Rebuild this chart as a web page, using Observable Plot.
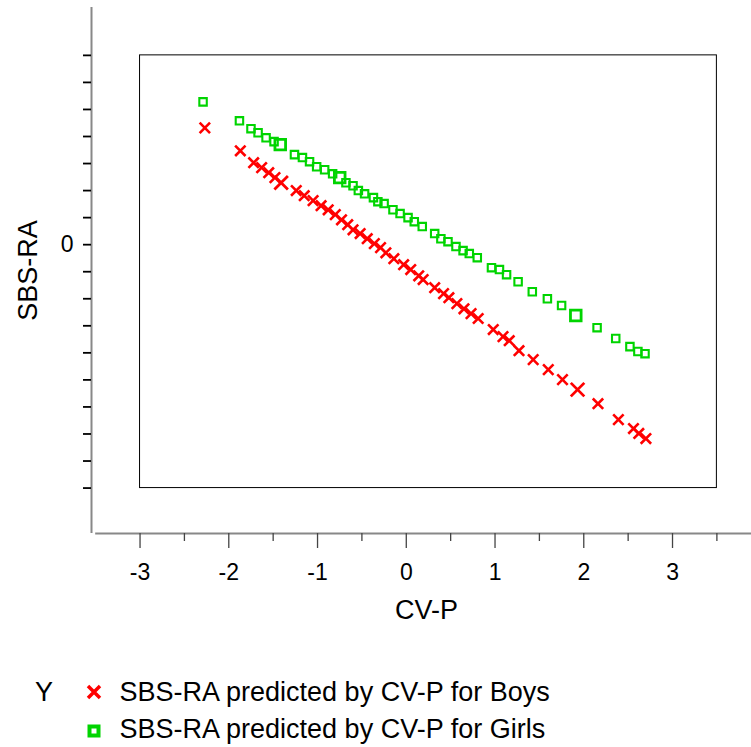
<!DOCTYPE html>
<html><head><meta charset="utf-8">
<script src="https://cdn.jsdelivr.net/npm/d3@7"></script>
<script src="https://cdn.jsdelivr.net/npm/@observablehq/plot@0.6"></script>
<style>
body{margin:0;background:#fff;font-family:"Liberation Sans",Arial,sans-serif;}
#wrap{position:relative;width:751px;height:747px;overflow:hidden;}
.leg{position:absolute;font-size:27px;line-height:27px;color:#000;white-space:nowrap;}
.mk{position:absolute;}
</style></head><body><div id="wrap"></div>
<script>
// ---- data ----
const boysCVP = [-2.27,-1.87,-1.72,-1.63,-1.55,-1.48,-1.41,-1.24,-1.15,-1.05,-0.96,-0.88,-0.80,-0.73,-0.66,-0.60,-0.52,-0.44,-0.36,-0.29,-0.23,-0.14,-0.03,0.05,0.14,0.19,0.32,0.42,0.48,0.57,0.65,0.73,0.81,0.98,1.09,1.16,1.27,1.43,1.60,1.76,1.93,2.16,2.39,2.56,2.62,2.70];
const boysSBSRA = [4.32,3.47,3.03,2.85,2.66,2.48,2.29,2.00,1.81,1.63,1.44,1.29,1.11,0.92,0.74,0.55,0.41,0.22,0.04,-0.11,-0.30,-0.52,-0.74,-0.92,-1.15,-1.29,-1.59,-1.81,-1.96,-2.18,-2.37,-2.55,-2.73,-3.14,-3.40,-3.55,-3.92,-4.25,-4.62,-4.99,-5.36,-5.88,-6.47,-6.80,-6.98,-7.17];
const boysCount = [1,1,1,1,1,1,2,1,1,1,1,1,1,1,1,1,1,1,1,1,1,1,1,1,1,1,1,1,1,1,1,1,1,1,1,1,1,1,1,1,2,1,1,1,1,1];

const girlsCVP = [-2.29,-1.88,-1.75,-1.67,-1.58,-1.49,-1.42,-1.26,-1.17,-1.09,-1.01,-0.92,-0.83,-0.75,-0.68,-0.60,-0.54,-0.47,-0.37,-0.32,-0.25,-0.15,-0.07,0.02,0.09,0.18,0.32,0.39,0.47,0.56,0.64,0.71,0.80,0.96,1.05,1.13,1.26,1.42,1.59,1.75,1.91,2.15,2.36,2.52,2.61,2.69];
const girlsSBSRA = [5.28,4.58,4.29,4.14,3.95,3.81,3.70,3.33,3.22,3.07,2.88,2.77,2.62,2.48,2.29,2.18,2.00,1.88,1.74,1.59,1.52,1.29,1.15,1.00,0.85,0.67,0.41,0.22,0.11,-0.07,-0.22,-0.33,-0.48,-0.85,-0.92,-1.11,-1.37,-1.74,-2.00,-2.25,-2.62,-3.07,-3.47,-3.77,-3.95,-4.03];
const girlsCount = [1,1,1,1,1,1,2,1,1,1,1,1,1,2,1,1,1,1,1,1,1,1,1,1,1,1,1,1,1,1,1,1,1,1,1,1,1,1,1,1,2,1,1,1,1,1];

const xMajorTicks = [-3,-2,-1,0,1,2,3];
const xMinorTicks = [-2.5,-1.5,-0.5,0.5,1.5,2.5,3.5];
const yTicks = [-9,-8,-7,-6,-5,-4,-3,-2,-1,0,1,2,3,4,5,6,7];
const yLabeledTicks = [0];
const xDomain = [-3.547, 3.89];
const yDomain = [-10.68, 8.77];
const frameX = [-3, 3.5];
const frameY = [-9, 7];
const xAxisStart = -3.5;
const xLabel = "CV-P";
const yLabel = "SBS-RA";
const legendTitle = "Y";
const seriesNames = ["SBS-RA predicted by CV-P for Boys", "SBS-RA predicted by CV-P for Girls"];

// ---- tables ----
const boys = boysCVP.map((x, i) => ({x, y: boysSBSRA[i], n: boysCount[i]}));
const girls = girlsCVP.map((x, i) => ({x, y: girlsSBSRA[i], n: girlsCount[i]}));
const frame = [{x1: frameX[0], x2: frameX[1], y1: frameY[0], y2: frameY[1]}];

const RED = "#ff0000", GREEN = "#00d400";

const chart = Plot.plot({
  width: 751,
  height: 640,
  marginLeft: 91,
  marginRight: 0,
  marginTop: 7,
  marginBottom: 107,
  x: {domain: xDomain},
  y: {domain: yDomain},
  style: {fontFamily: '"Liberation Sans", Arial, sans-serif', fontSize: "23px", color: "#000", background: "#fff", overflow: "visible"},
  marks: [
    Plot.rect(frame, {x1: "x1", x2: "x2", y1: "y1", y2: "y2", fill: "none", stroke: "#000", strokeWidth: 1}),
    Plot.ruleX([xDomain[0]], {y1: yDomain[0], y2: yDomain[1], stroke: "#888", strokeWidth: 2}),
    Plot.ruleY([yDomain[0]], {x1: xAxisStart, x2: xDomain[1], stroke: "#888", strokeWidth: 2}),
    Plot.axisX(xMajorTicks, {tickSize: 15, tickPadding: 15, tickFormat: d => String(d), stroke: "#444", strokeWidth: 1.3, label: null}),
    Plot.axisX(xMinorTicks, {tickSize: 8, tickFormat: () => "", stroke: "#444", strokeWidth: 1.3, label: null}),
    Plot.axisY(yTicks, {tickSize: 8, tickPadding: 10, tickFormat: d => yLabeledTicks.includes(d) ? String(d) : "", stroke: "#000", strokeWidth: 1.8, label: null}),
    Plot.text([xLabel], {frameAnchor: "bottom", lineAnchor: "middle", textAnchor: "middle", dy: 77, dx: 5, fontSize: 27, fill: "#000"}),
    Plot.text([yLabel], {frameAnchor: "left", lineAnchor: "middle", textAnchor: "middle", rotate: -90, dx: -63.5, fontSize: 27, fill: "#000"}),
    Plot.dot(boys.filter(d => d.n === 1), {x: "x", y: "y", symbol: "times", r: 4.8, stroke: RED, strokeWidth: 2.6}),
    Plot.dot(boys.filter(d => d.n === 2), {x: "x", y: "y", symbol: "times", r: 6.2, stroke: RED, strokeWidth: 2.8}),
    Plot.dot(girls.filter(d => d.n === 1), {x: "x", y: "y", symbol: "square", r: 4.2, fill: "none", stroke: GREEN, strokeWidth: 2.1}),
    Plot.dot(girls.filter(d => d.n === 2), {x: "x", y: "y", symbol: "square", r: 6.0, fill: "none", stroke: GREEN, strokeWidth: 2.8})
  ]
});

const wrap = document.getElementById("wrap");
chart.style.position = "absolute";
chart.style.left = "0px";
chart.style.top = "0px";
wrap.appendChild(chart);

// ---- legend (HTML below the chart) ----
function addText(txt, left, top) {
  const d = document.createElement("div");
  d.className = "leg";
  d.textContent = txt;
  d.style.left = left + "px";
  d.style.top = top + "px";
  wrap.appendChild(d);
}
addText(legendTitle, 35, 679);
addText(seriesNames[0], 119.5, 679);
addText(seriesNames[1], 119.5, 716);

const ns = "http://www.w3.org/2000/svg";
function marker(kind, cx, cy) {
  const s = document.createElementNS(ns, "svg");
  s.setAttribute("width", 20); s.setAttribute("height", 20);
  s.setAttribute("class", "mk");
  s.style.left = (cx - 10) + "px"; s.style.top = (cy - 10) + "px";
  if (kind === "x") {
    const p = document.createElementNS(ns, "path");
    p.setAttribute("d", "M4,4L16,16M4,16L16,4");
    p.setAttribute("stroke", RED); p.setAttribute("stroke-width", 3.5); p.setAttribute("fill", "none");
    s.appendChild(p);
  } else {
    const r = document.createElementNS(ns, "rect");
    r.setAttribute("x", 5.5); r.setAttribute("y", 5.5); r.setAttribute("width", 9); r.setAttribute("height", 9);
    r.setAttribute("stroke", GREEN); r.setAttribute("stroke-width", 4); r.setAttribute("fill", "#fff");
    s.appendChild(r);
  }
  wrap.appendChild(s);
}
marker("x", 94, 692);
marker("sq", 94, 731);
</script>
</body></html>
